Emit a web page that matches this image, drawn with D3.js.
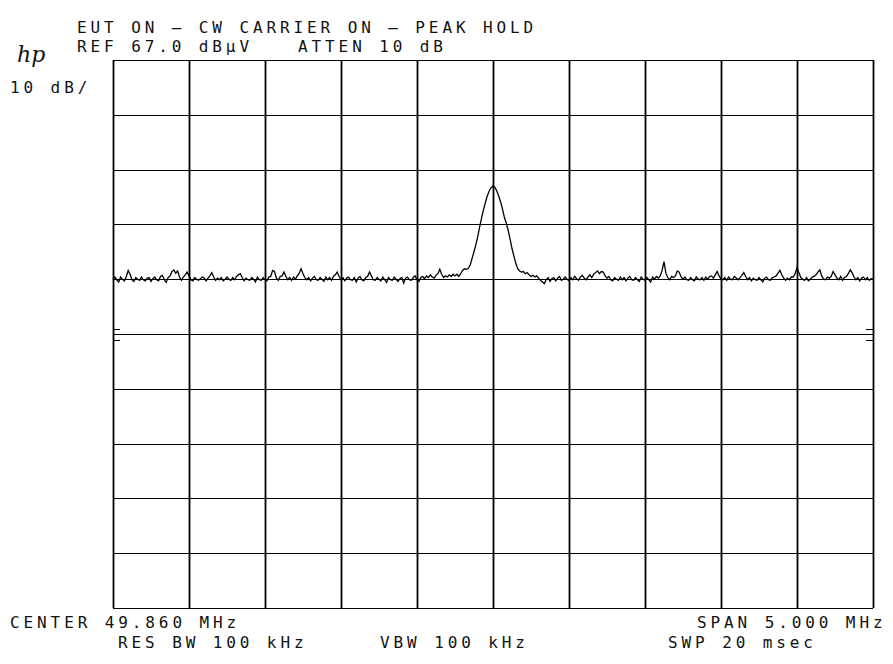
<!DOCTYPE html>
<html><head><meta charset="utf-8">
<script src="https://cdn.jsdelivr.net/npm/d3@7"></script>
<style>
html,body{margin:0;padding:0;background:#fff;}
svg text{font-family:"DejaVu Sans Mono",monospace;font-size:16px;fill:#111;letter-spacing:3.9px;}
</style></head><body>
<svg id="c" width="893" height="664"></svg>
<script>
// ---- data ----
const centerMHz = 49.86;
const spanMHz = 5.0;
const refLevel = 67.0;      // dBµV
const dbPerDiv = 10;
const xTicks = [47.36,47.86,48.36,48.86,49.36,49.86,50.36,50.86,51.36,51.86,52.36];
const yTicks = [67,57,47,37,27,17,7,-3,-13,-23,-33];
const displayLine = 17;      // dBµV marker level (the "=" marks)
const trace = [
26.9,27.4,26.9,26.5,27.4,27.0,26.7,27.5,28.6,27.9,26.9,26.6,27.3,27.0,26.8,27.4,26.9,26.7,27.2,27.3,
26.6,27.1,27.4,26.9,26.7,27.5,27.7,26.9,26.4,27.3,27.6,28.4,28.7,28.1,28.5,27.4,26.8,27.4,27.8,28.3,
27.6,26.9,26.7,27.3,27.0,26.8,27.1,27.4,27.2,26.7,27.2,27.6,28.2,27.4,26.8,27.2,26.9,27.3,26.7,27.0,
27.4,27.0,26.8,27.3,26.9,27.5,27.8,28.0,27.3,26.7,27.2,26.9,26.8,27.3,27.0,26.5,27.4,26.9,26.8,27.3,
26.9,26.7,27.4,27.5,28.6,28.4,27.2,26.8,27.5,27.6,28.3,27.5,26.9,27.3,26.8,27.4,27.0,27.6,28.1,28.9,
28.0,27.3,26.9,27.3,26.7,27.2,27.5,26.9,26.8,27.3,27.0,26.6,27.4,26.9,27.3,26.8,27.5,27.8,28.3,27.5,
26.9,27.3,26.7,27.2,27.4,26.9,26.8,27.3,26.5,27.2,27.5,26.9,26.7,27.3,27.5,28.3,27.6,26.9,26.8,27.3,
27.0,26.7,27.4,26.9,26.4,27.3,26.9,26.8,27.4,27.0,26.6,27.1,27.3,26.3,27.2,27.4,26.9,26.8,27.3,27.6,
26.9,26.6,27.3,27.5,27.1,27.6,27.3,27.8,27.4,27.2,27.7,28.0,28.8,27.9,27.3,27.6,27.4,27.8,27.5,27.9,
27.6,27.9,27.5,28.0,28.6,28.9,28.8,29.0,29.6,30.8,32.0,33.3,34.8,36.6,38.2,39.7,41.0,42.2,43.1,43.7,
44.0,43.8,43.1,42.2,41.1,39.8,38.3,37.2,35.9,34.3,32.6,31.2,29.9,28.9,28.5,28.3,28.4,28.0,28.2,27.8,
27.5,27.7,27.4,27.6,27.2,26.8,26.5,26.2,26.9,27.3,26.6,27.1,27.3,26.7,27.2,27.5,26.8,27.0,27.4,27.0,
26.7,27.3,26.9,27.5,27.1,26.8,27.4,27.7,27.2,26.9,27.4,27.8,27.3,27.9,28.2,28.5,28.0,28.4,28.3,27.6,
27.2,27.5,26.9,26.7,27.3,27.0,26.8,27.4,26.9,27.3,26.7,27.2,27.5,26.9,26.8,27.3,26.9,26.6,27.4,27.0,
26.8,27.3,26.9,26.5,27.4,27.0,27.5,27.2,27.6,28.6,30.2,28.1,27.3,26.9,27.5,27.3,27.6,28.5,28.3,27.4,
27.0,27.4,26.9,26.8,27.3,26.9,26.7,27.4,27.0,26.9,27.3,26.8,27.4,27.0,27.5,27.6,27.2,27.8,28.4,27.6,
27.0,26.9,27.3,26.8,27.4,27.0,26.9,27.5,27.2,26.9,27.3,27.7,28.2,27.5,26.9,27.3,26.7,27.2,26.9,26.8,
27.3,26.9,26.5,27.2,27.4,26.9,26.8,27.3,27.4,27.6,28.1,28.6,27.8,27.2,26.8,27.2,26.9,27.4,27.4,28.0,
29.1,28.2,27.3,27.0,26.8,27.3,26.7,27.0,27.4,27.5,27.8,28.3,28.7,27.6,27.0,26.9,27.4,27.2,27.5,28.4,
27.8,27.2,26.9,27.5,26.8,27.3,27.5,28.0,28.7,28.2,27.4,26.9,27.3,26.7,27.2,27.4,26.9,27.3,26.8,27.1,
27.0];
const texts = [
  {t:"EUT ON – CW CARRIER ON – PEAK HOLD", x:77, y:33},
  {t:"REF 67.0 dBµV", x:77, y:52},
  {t:"ATTEN 10 dB", x:298, y:52},
  {t:"10 dB/", x:10, y:93},
  {t:"CENTER 49.860 MHz", x:10, y:628},
  {t:"SPAN 5.000 MHz", x:697, y:628},
  {t:"RES BW 100 kHz", x:118, y:648},
  {t:"VBW 100 kHz", x:380, y:648},
  {t:"SWP 20 msec", x:668, y:648}
];

// ---- drawing ----
const svg = d3.select("#c");
const L=113, R=873, T=60, B=608;
const startF = centerMHz - spanMHz/2, stopF = centerMHz + spanMHz/2;
const x = d3.scaleLinear().domain([startF, stopF]).range([L, R]);
const y = d3.scaleLinear().domain([refLevel - 10*dbPerDiv, refLevel]).range([B, T]);

const g = svg.append("g");
// horizontal grid
g.selectAll("line.h").data(yTicks).join("line")
  .attr("x1", L).attr("x2", R)
  .attr("y1", d=>Math.round(y(d))+0.5).attr("y2", d=>Math.round(y(d))+0.5)
  .attr("stroke", "#000").attr("stroke-width", 1.2);
// vertical grid
g.selectAll("line.v").data(xTicks).join("line")
  .attr("y1", T).attr("y2", B)
  .attr("x1", d=>Math.round(x(d))+0.5).attr("x2", d=>Math.round(x(d))+0.5)
  .attr("stroke", "#000").attr("stroke-width", 1.8);

// display-line marks at both edges
const dl = y(displayLine);
[[L, L+7],[R-7, R]].forEach(([a,b])=>{
  [-5.5, 5.5].forEach(o=>{
    g.append("line").attr("x1",a).attr("x2",b)
      .attr("y1", Math.round(dl+o)+0.5).attr("y2", Math.round(dl+o)+0.5)
      .attr("stroke","#000").attr("stroke-width",1);
  });
});

// trace
const n = trace.length;
const line = d3.line()
  .x((d,i)=> x(startF + i*spanMHz/(n-1)))
  .y(d=> y(d));
svg.append("path").datum(trace).attr("d", line)
  .attr("fill","none").attr("stroke","#000").attr("stroke-width",1.3)
  .attr("stroke-linejoin","miter");

// text
svg.selectAll("text.lbl").data(texts).join("text")
  .attr("x", d=>d.x).attr("y", d=>d.y).text(d=>d.t);

// hp logo
svg.append("text").attr("x", 17).attr("y", 62)
  .style("font-family","DejaVu Serif,serif").style("font-style","italic")
  .style("font-size","22px").style("letter-spacing","0px").text("hp");
</script>
</body></html>
